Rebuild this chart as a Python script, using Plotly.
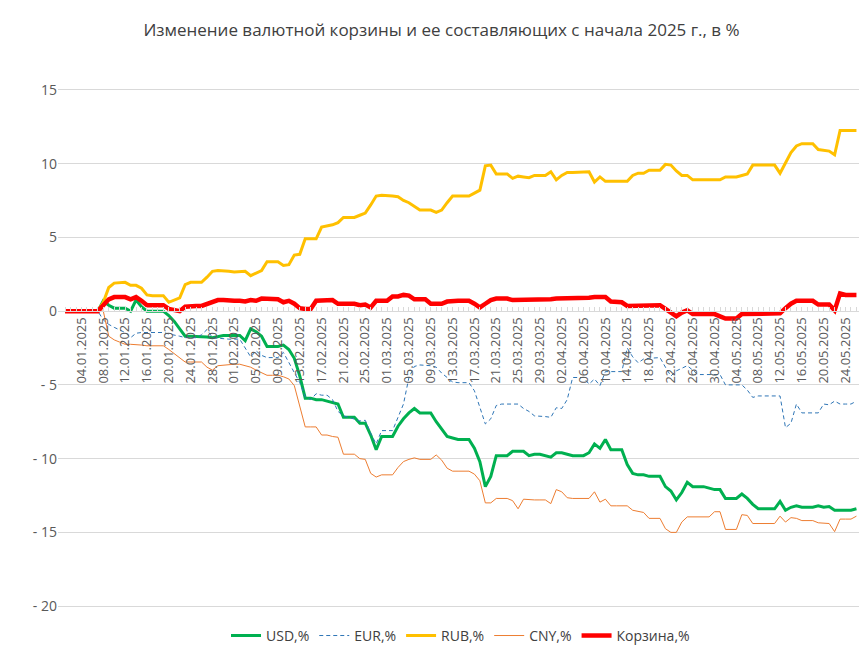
import datetime as dt
import plotly.graph_objects as go

start = dt.date(2025, 1, 1)
dates = [(start + dt.timedelta(days=i)).strftime("%d.%m.%Y") for i in range(146)]

usd = [0,0,0,0,0,0,0, 0.7,0.4,0.2,0.2,0.2,0.0,0.75,0.3,0.0,0.0,0.0,0.0,-0.3,
       -0.7,-1.2,-1.7,-1.7,-1.7,-1.7,-1.75,-1.8,-1.7,-1.65,-1.65,-1.65,-1.65,-2.0,-1.2,-1.4,-1.7,-2.4,-2.4,-2.4,
       -2.3,-2.6,-3.2,-4.4,-5.9,-5.9,-6.0,-6.0,-6.1,-6.2,-6.3,-7.2,-7.2,-7.2,-7.6,-7.6,-8.4,-9.4,-8.5,-8.5,
       -8.5,-7.8,-7.3,-6.9,-6.6,-6.9,-6.9,-6.9,-7.5,-8.0,-8.5,-8.6,-8.7,-8.7,-8.7,-9.3,-10.2,-11.9,-11.2,-9.8,
       -9.8,-9.8,-9.5,-9.5,-9.5,-9.8,-9.7,-9.7,-9.8,-9.9,-9.6,-9.6,-9.7,-9.8,-9.8,-9.8,-9.6,-9.0,-9.3,-8.7,
       -9.4,-9.4,-9.4,-10.4,-11.0,-11.1,-11.1,-11.2,-11.2,-11.2,-11.9,-12.2,-12.8,-12.3,-11.6,-11.9,-11.9,-11.9,-12.0,-12.1,
       -12.1,-12.7,-12.7,-12.7,-12.4,-12.7,-13.1,-13.4,-13.4,-13.4,-13.4,-12.9,-13.5,-13.3,-13.2,-13.3,-13.3,-13.3,-13.2,-13.3,
       -13.25,-13.5,-13.5,-13.5,-13.5,-13.4]

eur = [0,0,0,0,0,0,0, -0.6,-0.9,-1.1,-1.3,-1.45,-1.8,-1.5,-1.45,-1.45,-1.45,-1.45,-1.45,-1.55,
       -1.6,-1.7,-1.8,-1.8,-1.8,-1.6,-1.25,-1.8,-1.85,-1.9,-1.9,-1.9,-1.9,-2.5,-3.1,-2.7,-3.0,-3.15,-3.15,-3.15,
       -2.8,-3.5,-4.2,-4.85,-5.8,-6.0,-5.6,-5.7,-5.7,-6.0,-6.8,-7.1,-7.2,-7.3,-7.45,-7.4,-8.3,-9.0,-8.1,-8.1,
       -8.1,-7.2,-6.3,-4.5,-3.75,-3.65,-3.65,-3.7,-3.8,-4.2,-4.5,-4.8,-4.85,-4.85,-4.85,-5.4,-6.5,-7.65,-7.3,-6.4,
       -6.3,-6.3,-6.3,-6.3,-6.6,-6.8,-7.1,-7.1,-7.15,-7.2,-6.55,-6.6,-6.0,-4.5,-4.5,-4.5,-4.95,-4.6,-5.05,-4.1,
       -4.1,-4.1,-4.1,-2.5,-3.1,-3.5,-3.25,-3.2,-3.2,-3.15,-3.8,-4.4,-4.05,-3.9,-3.7,-4.0,-4.3,-4.3,-4.3,-4.3,
       -4.3,-5.0,-5.0,-5.0,-5.0,-5.35,-5.85,-5.75,-5.75,-5.75,-5.75,-5.75,-7.9,-7.6,-6.3,-6.9,-6.9,-6.9,-6.9,-6.3,
       -6.35,-6.1,-6.3,-6.3,-6.3,-6.1]

rub = [0,0,0,0,0,0,0, 0.6,1.6,1.9,1.95,1.95,1.75,1.75,1.55,1.1,1.05,1.05,1.05,0.6,
       0.75,0.9,1.8,1.95,1.95,1.95,2.3,2.7,2.75,2.75,2.7,2.65,2.65,2.7,2.4,2.55,2.75,3.35,3.35,3.35,
       3.1,3.15,3.8,3.85,4.9,4.9,4.9,5.7,5.75,5.85,6.0,6.35,6.35,6.35,6.5,6.65,7.2,7.8,7.85,7.85,
       7.8,7.75,7.5,7.35,7.1,6.85,6.85,6.85,6.7,6.85,7.35,7.8,7.8,7.8,7.8,8.0,8.2,9.85,9.9,9.3,
       9.3,9.3,9.0,9.15,9.1,9.05,9.2,9.2,9.2,9.45,8.9,9.2,9.4,9.4,9.4,9.4,9.45,8.75,9.1,8.8,
       8.8,8.8,8.8,8.8,9.2,9.35,9.35,9.55,9.55,9.55,9.95,9.9,9.5,9.2,9.2,8.9,8.9,8.9,8.9,8.9,
       8.9,9.1,9.1,9.1,9.2,9.3,9.9,9.9,9.9,9.9,9.9,9.35,10.1,10.75,11.2,11.35,11.35,11.35,10.95,10.9,
       10.85,10.6,12.25,12.25,12.25,12.25]

cny = [0,0,0,0,0,0,0,0, -1.7,-1.95,-2.1,-2.25,-2.25,-2.25,-2.3,-2.35,-2.35,-2.35,-2.35,-2.6,
       -2.9,-3.15,-3.45,-3.45,-3.45,-3.45,-3.8,-4.0,-3.7,-3.65,-3.6,-3.6,-3.6,-3.7,-3.8,-4.0,-4.2,-4.35,-4.35,-4.35,
       -4.45,-4.6,-5.05,-6.5,-7.85,-7.85,-7.85,-8.4,-8.4,-8.5,-8.55,-9.7,-9.7,-9.7,-10.0,-10.05,-11.0,-11.25,-11.1,-11.1,
       -11.1,-10.6,-10.2,-10.05,-9.95,-10.05,-10.05,-10.05,-9.75,-10.1,-10.65,-10.85,-10.85,-10.85,-10.85,-11.05,-11.5,-13.0,-13.0,-12.7,
       -12.7,-12.7,-12.85,-13.4,-12.75,-12.8,-12.8,-12.8,-12.8,-13.05,-12.1,-12.25,-12.65,-12.7,-12.7,-12.7,-12.7,-12.25,-12.95,-12.75,
       -13.2,-13.2,-13.2,-13.2,-13.5,-13.6,-13.65,-14.05,-14.05,-14.05,-14.75,-15.0,-15.0,-14.3,-13.95,-13.95,-13.95,-13.95,-13.95,-13.6,
       -13.6,-14.8,-14.8,-14.8,-13.8,-13.85,-14.4,-14.4,-14.4,-14.4,-14.4,-13.9,-14.3,-14.0,-14.05,-14.2,-14.2,-14.2,-14.35,-14.4,
       -14.4,-14.95,-14.1,-14.1,-14.1,-13.9]

basket = [0,0,0,0,0,0,0, 0.4,0.8,0.95,0.95,0.95,0.8,0.95,0.7,0.4,0.4,0.4,0.4,0.15,
          0.05,0.0,0.3,0.35,0.35,0.35,0.5,0.65,0.75,0.75,0.7,0.7,0.7,0.65,0.75,0.7,0.85,0.85,0.85,0.8,
          0.6,0.7,0.5,0.2,0.15,0.15,0.7,0.7,0.7,0.75,0.5,0.5,0.5,0.5,0.4,0.45,0.25,0.7,0.7,0.7,
          1.0,1.0,1.1,1.05,0.8,0.8,0.8,0.5,0.5,0.5,0.65,0.7,0.7,0.7,0.7,0.5,0.25,0.5,0.75,0.85,
          0.85,0.85,0.75,0.75,0.75,0.8,0.8,0.8,0.8,0.8,0.85,0.85,0.85,0.85,0.9,0.9,0.9,0.95,0.95,0.95,
          0.65,0.65,0.6,0.35,0.35,0.35,0.4,0.4,0.4,0.4,0.15,-0.1,-0.35,-0.1,0.05,-0.2,-0.2,-0.2,-0.2,-0.2,
          -0.35,-0.5,-0.5,-0.5,-0.2,-0.2,-0.15,-0.15,-0.15,-0.15,-0.15,-0.15,0.2,0.5,0.7,0.7,0.7,0.7,0.45,0.45,
          0.45,0.05,1.2,1.1,1.1,1.1]

ytick_vals = [-20, -15, -10, -5, 0, 5, 10, 15]
ytick_text = ["- 20", "- 15", "- 10", "- 5", "0", "5", "10", "15"]

series = [
    ("USD,%", usd, dict(color="#00B050", width=3)),
    ("EUR,%", eur, dict(color="#2E75B6", width=1, dash="4px,3px")),
    ("RUB,%", rub, dict(color="#FFC000", width=3)),
    ("CNY,%", cny, dict(color="#ED7D31", width=1)),
    ("Корзина,%", basket, dict(color="#FF0000", width=4.5)),
]

fig = go.Figure()
for name, vals, line in series:
    fig.add_trace(go.Scatter(x=dates, y=vals, name=name, mode="lines", line=line))

ticktext = [d if i % 4 == 3 else "" for i, d in enumerate(dates)]

fig.update_layout(
    width=867, height=657,
    paper_bgcolor="white", plot_bgcolor="white",
    margin=dict(l=50, r=12, t=45, b=22, autoexpand=False),
    font=dict(family="Open Sans, Liberation Sans, Arial", size=12, color="#595959"),
    title=dict(text="Изменение валютной корзины и ее составляющих с начала 2025 г., в %",
               x=0.5, xanchor="center", y=0.966, yanchor="middle",
               font=dict(size=17, color="#404040")),
    showlegend=True,
    legend=dict(orientation="h", x=0.5, xanchor="center", y=0.012, yanchor="middle",
                bgcolor="rgba(0,0,0,0)", font=dict(size=14, color="#404040")),
    xaxis=dict(type="category", range=[-1.3, 146.2], tickmode="array", automargin=False,
               tickvals=dates, ticktext=ticktext, tickangle=-90,
               showgrid=False, showline=True, linecolor="#D9D9D9", linewidth=1,
               ticks="inside", ticklen=4, tickcolor="#D9D9D9",
               anchor="free", position=22.5 / 40, zeroline=False,
               tickfont=dict(size=13, color="#595959")),
    yaxis=dict(range=[-22.5, 17.5], tickmode="array", tickvals=ytick_vals, ticktext=ytick_text,
               automargin=False,
               showgrid=True, gridcolor="#D9D9D9", gridwidth=1, zeroline=False,
               showline=False, tickfont=dict(size=14, color="#595959"), domain=[0, 1]),
)

fig.write_html("out.html")
